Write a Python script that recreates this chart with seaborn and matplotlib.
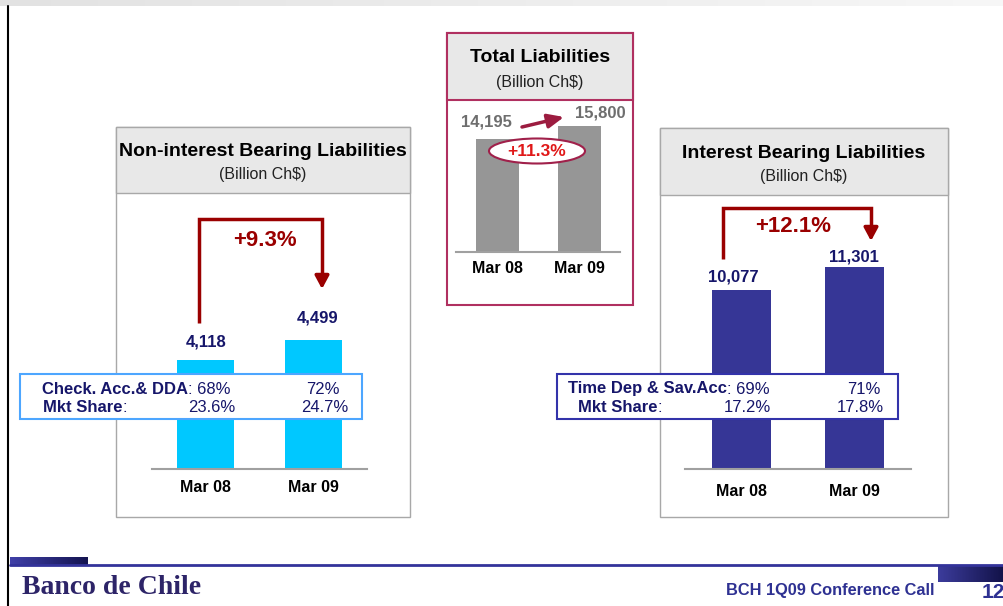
import numpy as np
import matplotlib
matplotlib.use("Agg")
import matplotlib.pyplot as plt
import seaborn as sns
from matplotlib.patches import Rectangle, Ellipse
from matplotlib.colors import LinearSegmentedColormap

# ---------------- data ----------------
periods = ["Mar 08", "Mar 09"]
non_interest = [4118, 4499]
total_liab = [14195, 15800]
interest = [10077, 11301]
check_dda_share = ["68%", "72%"]
check_mkt_share = ["23.6%", "24.7%"]
time_sav_share = ["69%", "71%"]
time_mkt_share = ["17.2%", "17.8%"]
titles = ["Non-interest Bearing Liabilities", "Total Liabilities", "Interest Bearing Liabilities"]
unit = "(Billion Ch$)"


def growth(v):
    return f"+{(v[1] / v[0] - 1) * 100:.1f}%"


sns.set_theme(style="white")
plt.rcParams['font.family'] = ['Liberation Sans', 'DejaVu Sans']

W, H = 1004, 606
fig = plt.figure(figsize=(W / 100, H / 100), dpi=100)
fig.patch.set_facecolor("white")

bg = fig.add_axes([0, 0, 1, 1], zorder=0)
bg.set_xlim(0, W); bg.set_ylim(H, 0); bg.axis('off')

NAVY = "#16166a"
DARKRED = "#9a0000"

# top strip
grad = np.linspace(0, 1, 256).reshape(1, -1)
bg.imshow(grad, extent=(0, W, 6, 0), aspect='auto',
          cmap=LinearSegmentedColormap.from_list("g", ["#e2e2e2", "#f7f7f7"]), zorder=0)
# left black rule
bg.plot([8, 8], [6, 606], color="black", lw=1.5)
bg.set_xlim(0, W); bg.set_ylim(H, 0)


def panel(x0, y0, x1, y1, yh, edge, lw, title, ty, sy):
    bg.add_patch(Rectangle((x0, y0), x1 - x0, y1 - y0, facecolor='white', edgecolor=edge, lw=lw, zorder=1))
    bg.add_patch(Rectangle((x0, y0), x1 - x0, yh - y0, facecolor='#e8e8e8', edgecolor=edge, lw=lw, zorder=2))
    cx = (x0 + x1) / 2
    bg.text(cx, ty, title, ha='center', va='center', fontsize=14, fontweight='bold', color='black', zorder=3)
    bg.text(cx, sy, unit, ha='center', va='center', fontsize=11.5, color='#222222', zorder=3)


panel(116, 127, 410, 517, 193, '#a8a8a8', 1.0, titles[0], 152, 174)
panel(447, 33, 633, 305, 100, '#b03060', 1.5, titles[1], 57, 82)
panel(660, 128, 948, 517, 195, '#a8a8a8', 1.0, titles[2], 153, 177)


def px_axes(x0, ybase, w, h, z=2):
    return fig.add_axes([x0 / W, (H - ybase) / H, w / W, h / H], zorder=z)


def bars(ax, vals, color, width, ylim, pad):
    sns.barplot(x=periods, y=vals, color=color, saturation=1, width=width,
                errorbar=None, linewidth=0, ax=ax)
    ax.set_xlim(-0.5, 1.5)
    ax.set_ylim(*ylim)
    ax.patch.set_alpha(0)
    for s in ['top', 'right', 'left']:
        ax.spines[s].set_visible(False)
    ax.spines['bottom'].set_color('#a0a0a0')
    ax.spines['bottom'].set_linewidth(1.5)
    ax.set_yticks([])
    ax.set_xlabel(''); ax.set_ylabel('')
    ax.tick_params(axis='x', length=0, pad=pad, labelsize=11.5, colors='black')
    for lab in ax.get_xticklabels():
        lab.set_fontweight('bold')


def labels(ax, vals, offs, color):
    for i, (v, (dx, dy)) in enumerate(zip(vals, offs)):
        ax.annotate(f"{v:,}", xy=(i, v), xytext=(dx * 0.72, dy * 0.72), textcoords='offset points',
                    ha='center', va='center', fontsize=12, fontweight='bold', color=color,
                    annotation_clip=False)


axL = px_axes(151.5, 469, 216, 250)
bars(axL, non_interest, '#00c8ff', 0.53, (2040, 6805), 8)
labels(axL, non_interest, [(0.5, 18), (4, 22)], NAVY)

axC = px_axes(456.5, 252, 164, 150)
bars(axC, total_liab, '#969696', 0.52, (0, 18810), 6.5)
labels(axC, total_liab, [(-11.5, 17), (20.5, 13)], '#6e6e6e')

axR = px_axes(685, 469, 226, 250)
bars(axR, interest, '#363696', 0.52, (550, 13856), 11)
labels(axR, interest, [(-8.5, 13), (-0.5, 10)], NAVY)

# ---------------- foreground annotations ----------------
fg = fig.add_axes([0, 0, 1, 1], zorder=5)
fg.set_xlim(0, W); fg.set_ylim(H, 0); fg.axis('off'); fg.patch.set_alpha(0)


def bracket(xa, ya, xb, ytop, ytip, txt, tx, ty):
    fg.plot([xa, xa, xb, xb], [ya, ytop, ytop, ytip - 7], color=DARKRED, lw=2.5,
            solid_joinstyle='miter', solid_capstyle='butt')
    fg.annotate('', xy=(xb, ytip), xytext=(xb, ytip - 10),
                arrowprops=dict(arrowstyle='-|>,head_width=0.35,head_length=0.65',
                                color=DARKRED, lw=2.5, shrinkA=0, shrinkB=0))
    fg.text(tx, ty, txt, ha='center', va='center', fontsize=16, fontweight='bold', color=DARKRED)


bracket(199, 323, 322, 219, 289, growth(non_interest), 265, 241)
bracket(723, 259, 871, 208, 241, growth(interest), 793, 227)

# total liabilities arrow + ellipse
fg.annotate('', xy=(564, 117), xytext=(522, 127),
            arrowprops=dict(arrowstyle='-|>,head_width=0.35,head_length=0.8',
                            color='#9c1c40', lw=2.5, shrinkA=0, shrinkB=0))
fg.add_patch(Ellipse((537, 151), 96, 25, facecolor='white', edgecolor='#a0204a', lw=1.5))
fg.text(537, 151.5, growth(total_liab), ha='center', va='center', fontsize=12.5,
        fontweight='bold', color='#e01818')


def info_box(x0, y0, x1, y1, edge, lab1, lab2, x_l1, x_l2, vals1, vals2, xr0b, xr1, xr1b):
    fg.add_patch(Rectangle((x0, y0), x1 - x0, y1 - y0, facecolor='white', edgecolor=edge, lw=1.5))
    y_a, y_b = 389, 407
    t1 = fg.text(x_l1, y_a, lab1, ha='left', va='center', fontsize=12, fontweight='bold', color=NAVY)
    fg.annotate(": " + vals1[0], xy=(1, 0.5), xycoords=t1, ha='left', va='center',
                fontsize=12, color=NAVY)
    t2 = fg.text(x_l2, y_b, lab2, ha='left', va='center', fontsize=12, fontweight='bold', color=NAVY)
    fg.annotate(":", xy=(1, 0.5), xycoords=t2, ha='left', va='center', fontsize=12, color=NAVY)
    fg.text(xr0b, y_b, vals2[0], ha='right', va='center', fontsize=12, color=NAVY)
    fg.text(xr1, y_a, vals1[1], ha='right', va='center', fontsize=12, color=NAVY)
    fg.text(xr1b, y_b, vals2[1], ha='right', va='center', fontsize=12, color=NAVY)


info_box(20, 374, 362, 419, '#4da6ff', "Check. Acc.& DDA", "Mkt Share", 42, 43,
         check_dda_share, check_mkt_share, 235, 340, 348)
info_box(557, 374, 898, 419, '#3333aa', "Time Dep & Sav.Acc", "Mkt Share", 568, 578,
         time_sav_share, time_mkt_share, 771, 881, 884)

# ---------------- footer ----------------
fg.plot([10, 1004], [565, 565], color='#33339a', lw=2)
fg.imshow(grad, extent=(10, 88, 565, 557), aspect='auto',
          cmap=LinearSegmentedColormap.from_list("l", ["#4040a8", "#141450"]))
fg.imshow(grad, extent=(938, 1004, 582, 566), aspect='auto',
          cmap=LinearSegmentedColormap.from_list("r", ["#3c3c9c", "#121248"]))
fg.set_xlim(0, W); fg.set_ylim(H, 0)
fg.text(22, 587, "Banco de Chile", ha='left', va='center', fontsize=20, fontweight='bold',
        family=['Liberation Serif', 'DejaVu Serif'], color='#2d2468')
fg.text(935, 590, "BCH 1Q09 Conference Call", ha='right', va='center', fontsize=11.8,
        fontweight='bold', color='#2e3192')
fg.text(982, 593, "12", ha='left', va='center', fontsize=15, fontweight='bold', color='#2e3192')

fig.savefig("out.png", dpi=100, facecolor='white')
